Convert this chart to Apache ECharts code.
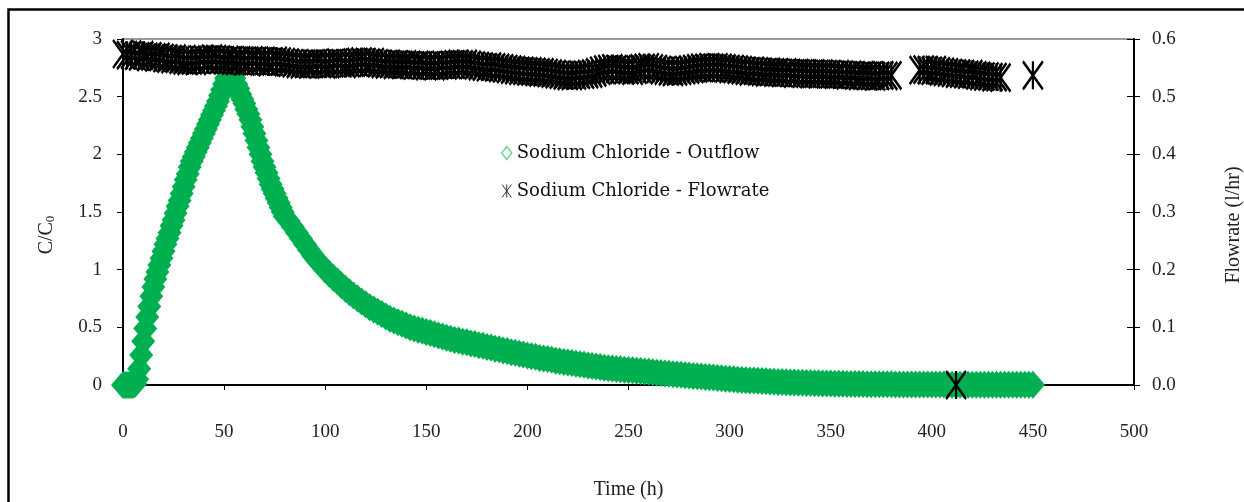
<!DOCTYPE html>
<html>
<head>
<meta charset="utf-8">
<script src="https://cdn.jsdelivr.net/npm/echarts@6/dist/echarts.min.js"></script>
<style>
html,body{margin:0;padding:0;background:#fff;}
#chart{width:1244px;height:502px;}
</style>
</head>
<body>
<div id="chart"></div>
<script>
// ---- DATA ----
// Outflow C/C0, hourly samples 0..80 h
const outflowEarlyStart = 0, outflowEarlyStep = 1;
const outflowEarly = [
  0.00,0.00,0.00,0.00,0.00,0.00,0.01,0.05,0.14,0.26,
  0.38,0.49,0.59,0.68,0.77,0.85,0.92,0.98,1.04,1.10,
  1.16,1.22,1.27,1.32,1.38,1.43,1.49,1.55,1.60,1.66,
  1.72,1.78,1.83,1.89,1.94,1.98,2.02,2.06,2.10,2.14,
  2.18,2.22,2.26,2.30,2.34,2.38,2.42,2.46,2.51,2.56,
  2.61,2.66,2.71,2.76,
  2.71,2.66,2.61,2.57,2.52,2.48,2.44,2.39,2.35,2.30,
  2.24,2.18,2.12,2.06,2.00,1.94,1.89,1.84,1.79,1.74,
  1.70,1.66,1.62,1.58,1.54,1.50,1.46
];
// Outflow C/C0, 2-hourly samples 82..450 h
const outflowLateStart = 82, outflowLateStep = 2;
const outflowLate = [
  1.42,1.37,1.32,1.27,1.22,1.17,1.12,1.08,1.04,1.00,
  0.965,0.93,0.90,0.865,0.835,0.805,0.775,0.75,0.725,0.70,
  0.675,0.655,0.635,0.615,0.595,0.575,0.56,0.545,0.53,0.515,
  0.50,0.49,0.48,0.47,0.46,0.45,0.44,0.43,0.42,0.41,
  0.40,0.39,0.385,0.375,0.37,0.36,0.355,0.345,0.34,0.33,
  0.325,0.315,0.31,0.30,0.295,0.285,0.28,0.27,0.265,0.255,
  0.25,0.245,0.235,0.23,0.225,0.22,0.21,0.205,0.20,0.195,
  0.19,0.185,0.18,0.175,0.17,0.165,0.16,0.155,0.15,0.145,
  0.142,0.139,0.136,0.133,0.13,0.127,0.124,0.121,0.118,0.115,
  0.11,0.107,0.104,0.10,0.097,0.094,0.091,0.088,0.085,0.082,
  0.079,0.076,0.073,0.07,0.067,0.064,0.061,0.058,0.055,0.052,
  0.049,0.046,0.044,0.042,0.04,0.038,0.036,0.034,0.032,0.03,
  0.028,0.027,0.025,0.024,0.022,0.021,0.02,0.019,0.018,0.017,
  0.016,0.015,0.014,0.013,0.012,0.011,0.01,0.01,0.009,0.009,
  0.008,0.008,0.008,0.007,0.007,0.007,0.006,0.006,0.006,0.006,
  0.005,0.005,0.005,0.005,0.005,0.005,0.004,0.004,0.004,0.004,
  0.004,0.004,0.004,0.003,0.003,0.003,0.003,0.003,0.003,0.003,
  0.003,0.003,0.003,0.003,0.002,0.002,0.002,0.002,0.002,0.002,
  0.002,0.002,0.002,0.002,0.002
];
// Flowrate (l/hr), 2-hourly samples 0..380 h
const flowAStart = 0, flowAStep = 2;
const flowA = [
  0.574,0.572,0.573,0.571,0.570,0.572,0.569,0.570,0.568,0.569,0.567,
  0.566,0.565,0.566,0.564,0.563,0.562,0.563,0.562,0.564,0.565,0.564,0.566,0.565,0.564,0.563,
  0.564,0.563,0.562,0.563,0.561,0.562,0.563,0.562,0.561,0.562,0.560,0.561,0.562,0.561,0.560,
  0.559,0.558,0.557,0.556,0.557,0.556,0.557,0.558,0.557,0.556,0.557,0.558,0.559,0.558,0.557,
  0.558,0.559,0.560,0.561,0.560,0.559,0.560,0.558,0.557,0.556,0.557,0.555,0.556,0.555,0.556,
  0.555,0.554,0.555,0.554,0.553,0.554,0.553,0.554,0.555,0.554,0.555,0.556,0.557,0.556,0.557,
  0.555,0.554,0.553,0.552,0.551,0.552,0.551,0.550,0.549,0.548,0.547,0.546,0.545,0.545,0.544,
  0.544,0.543,0.542,0.542,0.541,0.540,0.539,0.538,0.537,0.536,0.536,0.537,0.538,0.538,0.539,
  0.540,0.542,0.545,0.547,0.548,0.549,0.548,0.547,0.546,0.546,0.545,0.547,0.549,0.550,0.551,
  0.549,0.548,0.546,0.545,0.544,0.543,0.544,0.545,0.546,0.547,0.548,0.549,0.550,0.550,0.551,
  0.550,0.551,0.550,0.549,0.548,0.548,0.547,0.546,0.545,0.544,0.545,0.544,0.543,0.542,0.543,
  0.542,0.542,0.541,0.542,0.541,0.540,0.541,0.540,0.540,0.539,0.540,0.539,0.540,0.539,0.539,
  0.538,0.539,0.538,0.537,0.538,0.537,0.536,0.537,0.536,0.536,0.535,0.536,0.537,0.536,0.537
];
// Flowrate (l/hr), 2-hourly samples 394..434 h
const flowBStart = 394, flowBStep = 2;
const flowB = [
  0.546,0.547,0.546,0.545,0.546,0.544,0.543,0.542,0.541,0.540,
  0.540,0.539,0.538,0.539,0.537,0.536,0.535,0.535,0.534,0.534,0.533
];
// Isolated flowrate points
const flowExtraTimes = [412, 450];
const flowExtraValues = [0.0, 0.537];

const xTicks = {min: 0, max: 500, interval: 50};
const yLeftTicks = {min: 0, max: 3, interval: 0.5};
const yRightTicks = {min: 0, max: 0.6, interval: 0.1};

const seriesNames = ['Sodium Chloride - Outflow', 'Sodium Chloride - Flowrate'];

// ---- build series data ----
function seg(start, step, vals){ return vals.map((v,i)=>[start+i*step, v]); }
const outflowData = seg(outflowEarlyStart, outflowEarlyStep, outflowEarly)
  .concat(seg(outflowLateStart, outflowLateStep, outflowLate));
const flowData = seg(flowAStart, flowAStep, flowA)
  .concat(seg(flowBStart, flowBStep, flowB))
  .concat(flowExtraTimes.map((t,i)=>[t, flowExtraValues[i]]));

const asterisk = 'path://M0,0L10,14M10,0L0,14M5,0L5,14';
const serif = 'Liberation Serif';
const GREEN = '#00B050';

const chart = echarts.init(document.getElementById('chart'), null, {renderer:'canvas'});
chart.setOption({
  animation: false,
  backgroundColor: '#fff',
  grid: {left: 123, right: 110, top: 39, bottom: 117, show: true, outerBoundsMode: 'none',
         containLabel: false,
         borderColor: '#9a9a9a', borderWidth: 2, backgroundColor: 'transparent'},
  legend: {
    orient: 'vertical', left: 496, top: 139,
    itemWidth: 10, itemHeight: 13, itemGap: 20,
    textStyle: {fontFamily: 'DejaVu Serif', fontSize: 18, color: '#111'},
    data: [
      {name: seriesNames[0], icon: 'diamond',
       itemStyle: {color: '#fff', borderColor: '#6fd39a', borderWidth: 1.5}},
      {name: seriesNames[1], icon: asterisk,
       itemStyle: {color: 'rgba(0,0,0,0)', borderColor: '#333', borderWidth: 1}}
    ]
  },
  xAxis: {
    type: 'value', min: xTicks.min, max: xTicks.max, interval: xTicks.interval,
    name: 'Time (h)', nameLocation: 'middle', nameGap: 95,
    nameTextStyle: {fontFamily: serif, fontSize: 20, color: '#222'},
    axisLine: {lineStyle: {color: '#000', width: 2}},
    axisTick: {inside: false, length: 5, lineStyle: {color: '#000'}},
    axisLabel: {margin: 38, fontFamily: serif, fontSize: 19, color: '#222'},
    splitLine: {show: false}
  },
  yAxis: [
    {
      type: 'value', position: 'left', min: yLeftTicks.min, max: yLeftTicks.max, interval: yLeftTicks.interval,
      axisLine: {show: true, lineStyle: {color: '#000', width: 2}},
      axisTick: {show: true, inside: false, length: 6, lineStyle: {color: '#000'}},
      axisLabel: {margin: 21, fontFamily: serif, fontSize: 19, color: '#222'},
      splitLine: {show: false}
    },
    {
      type: 'value', position: 'right', min: yRightTicks.min, max: yRightTicks.max, interval: yRightTicks.interval,
      axisLine: {show: true, lineStyle: {color: '#000', width: 2}},
      axisTick: {show: true, inside: false, length: 6, lineStyle: {color: '#000'}},
      axisLabel: {margin: 18, fontFamily: serif, fontSize: 19, color: '#222',
                  formatter: v => v.toFixed(1)},
      splitLine: {show: false}
    },
    {
      type: 'value', position: 'right', min: yRightTicks.min, max: yRightTicks.max, interval: yRightTicks.interval,
      axisLine: {show: false},
      axisTick: {show: true, inside: true, length: 7, lineStyle: {color: '#000'}},
      axisLabel: {show: false},
      splitLine: {show: false}
    }
  ],
  series: [
    {
      name: seriesNames[0], type: 'scatter', yAxisIndex: 0,
      symbol: 'diamond', symbolSize: [24, 28],
      itemStyle: {color: GREEN, opacity: 1},
      data: outflowData, z: 2
    },
    {
      name: seriesNames[1], type: 'scatter', yAxisIndex: 1,
      symbol: asterisk, symbolSize: [20, 28],
      itemStyle: {color: 'rgba(0,0,0,0)', borderColor: '#000', borderWidth: 2.6, opacity: 1},
      data: flowData, z: 3
    }
  ],
  graphic: [
    {type: 'rect', left: 6, top: 7, silent: true, z: 100,
     shape: {x: 0, y: 0, width: 1300, height: 600},
     style: {fill: 'none', stroke: '#000', lineWidth: 2.5}},
    {type: 'text', x: 47, y: 235, rotation: Math.PI / 2, silent: true,
     style: {text: 'C/C{s|0}', fontFamily: serif, fontSize: 20, fill: '#222',
             align: 'center', verticalAlign: 'middle',
             rich: {s: {fontFamily: serif, fontSize: 13, fill: '#222', padding: [8, 0, 0, 0]}}}},
    {type: 'text', x: 1234, y: 225, rotation: Math.PI / 2, silent: true,
     style: {text: 'Flowrate (l/hr)', fontFamily: serif, fontSize: 20, fill: '#222',
             align: 'center', verticalAlign: 'middle'}}
  ]
});
</script>
</body>
</html>
